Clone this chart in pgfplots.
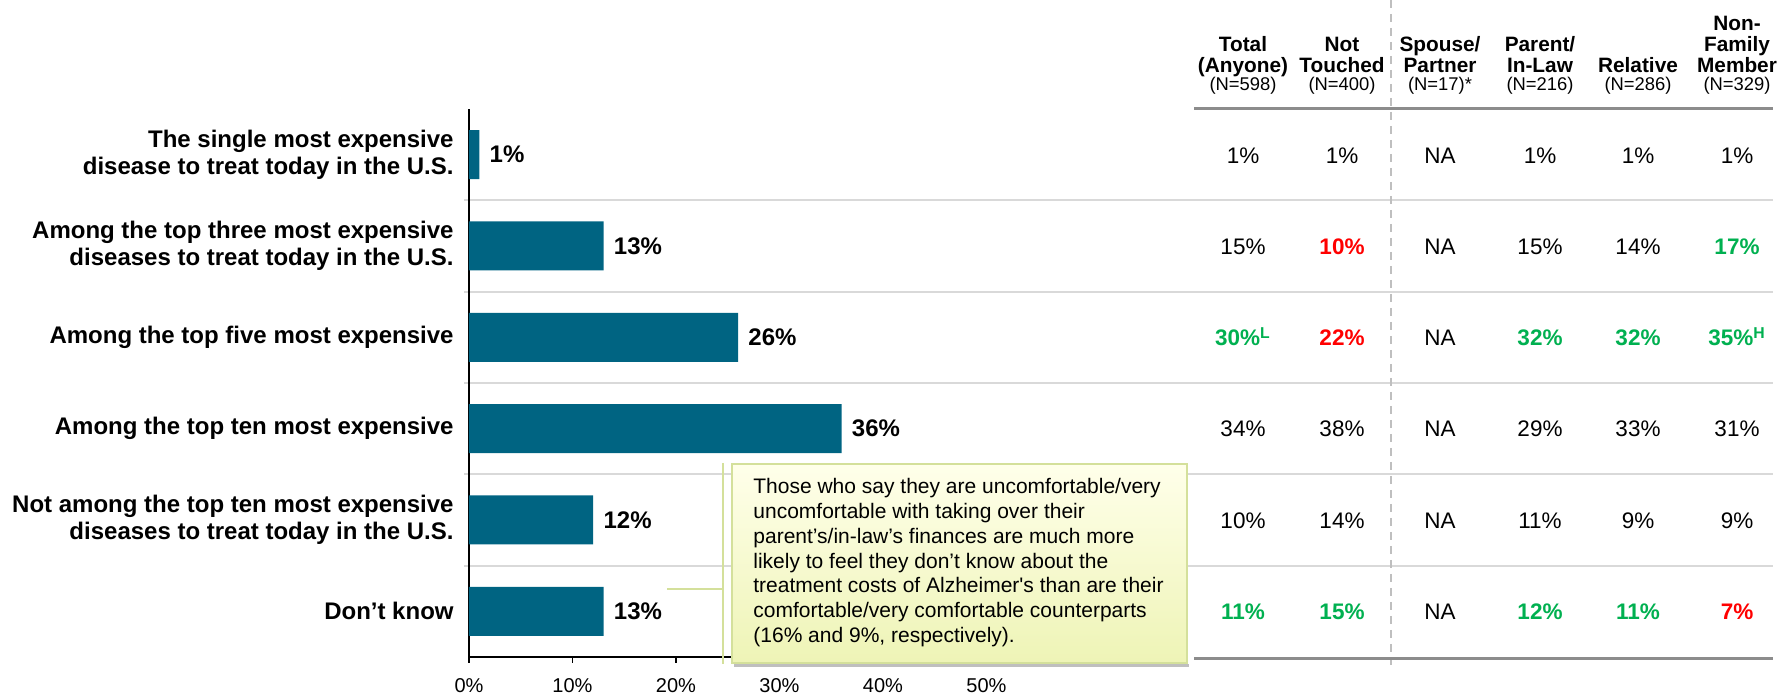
\documentclass[border=0pt]{standalone}
\usepackage{pgfplots}
\pgfplotsset{compat=1.18}
\usepackage{fontspec}
\setmainfont{Liberation Sans}
\definecolor{barblue}{HTML}{006482}
\definecolor{vgreen}{HTML}{00B050}
\definecolor{vred}{HTML}{FF0000}
\definecolor{sepgray}{HTML}{D9D9D9}
\definecolor{thickgray}{HTML}{8C8C8C}
\definecolor{dashgray}{HTML}{BFBFBF}
\definecolor{callborder}{HTML}{D4E09B}
\definecolor{calltop}{HTML}{FFFFEA}
\definecolor{callbot}{HTML}{EEF4B6}
\newcommand\fcat{\bfseries\fontsize{12pt}{13.3pt}\selectfont}
\newcommand\fval{\fontsize{11.25pt}{13pt}\selectfont}
\newcommand\fvalb{\bfseries\fontsize{11.25pt}{13pt}\selectfont}
\newcommand\fhead{\bfseries\fontsize{10.4pt}{12pt}\selectfont}
\newcommand\fn{\fontsize{9.2pt}{10.5pt}\selectfont}
\newcommand\ftick{\fontsize{10pt}{12pt}\selectfont}
\newcommand\fcall{\fontsize{10.5pt}{12.4pt}\selectfont}
\begin{document}
\begin{tikzpicture}
\begin{scope}[shift={(0pt,349pt)}, x=0.5pt, y=-0.5pt]
\path[use as bounding box] (0,0) rectangle (1790,698);
% row separators
\foreach \yy in {200.3,291.7,383,474.3,565.7} {
  \draw[sepgray, line width=1pt] (464,\yy) -- (1773,\yy);
}
% dashed vertical line
\draw[dashgray, line width=0.75pt, dash pattern=on 4pt off 3pt] (1391,0) -- (1391,665);
% thick table lines
\draw[thickgray, line width=1.5pt] (1194,109) -- (1773,109);
\draw[thickgray, line width=1.5pt] (1194,659) -- (1773,659);
\end{scope}

\begin{axis}[
  at={(234.5pt,20.5pt)}, anchor=south west,
  scale only axis,
  width=284.625pt, height=274pt,
  xmin=0, xmax=55, ymin=-0.5, ymax=5.5,
  xbar, bar width=24.5pt,
  axis x line*=bottom, axis y line*=left,
  axis line style={black, line width=1pt},
  xtick={0,10,20,30,40,50},
  xticklabels={0\%,10\%,20\%,30\%,40\%,50\%},
  xticklabel style={font=\ftick, yshift=-4pt},
  tick align=outside,
  major tick length=3pt,
  x tick style={black, line width=0.6pt},
  y tick style={draw=none},
  ytick={0,1,2,3,4,5},
  yticklabels={
    {Don’t know},
    {Not among the top ten most expensive\\diseases to treat today in the U.S.},
    {Among the top ten most expensive},
    {Among the top five most expensive},
    {Among the top three most expensive\\diseases to treat today in the U.S.},
    {The single most expensive\\disease to treat today in the U.S.}},
  yticklabel style={align=right, font=\fcat, inner xsep=0pt, xshift=-4.5pt},
  nodes near coords={\pgfmathprintnumber[assume math mode=true]{\pgfplotspointmeta}\%},
  point meta=x,
  nodes near coords style={font=\fcat, anchor=west, inner xsep=0pt, xshift=5pt, black},
  clip=false,
]
\addplot[fill=barblue, draw=none] coordinates {(1,5) (13,4) (26,3) (36,2) (12,1) (13,0)};
\end{axis}

\begin{scope}[shift={(0pt,349pt)}, x=0.5pt, y=-0.5pt]
% headers
\node[font=\fhead, anchor=base] at (1737,31) {Non-};
\node[font=\fhead, anchor=base] at (1243,52) {Total};
\node[font=\fhead, anchor=base] at (1342,52) {Not};
\node[font=\fhead, anchor=base] at (1440,52) {Spouse/};
\node[font=\fhead, anchor=base] at (1540,52) {Parent/};
\node[font=\fhead, anchor=base] at (1737,52) {Family};
\node[font=\fhead, anchor=base] at (1243,72.5) {(Anyone)};
\node[font=\fhead, anchor=base] at (1342,72.5) {Touched};
\node[font=\fhead, anchor=base] at (1440,72.5) {Partner};
\node[font=\fhead, anchor=base] at (1540,72.5) {In-Law};
\node[font=\fhead, anchor=base] at (1638,72.5) {Relative};
\node[font=\fhead, anchor=base] at (1737,72.5) {Member};
\node[font=\fn, anchor=base] at (1243,91) {(N=598)};
\node[font=\fn, anchor=base] at (1342,91) {(N=400)};
\node[font=\fn, anchor=base] at (1440,91) {(N=17)*};
\node[font=\fn, anchor=base] at (1540,91) {(N=216)};
\node[font=\fn, anchor=base] at (1638,91) {(N=286)};
\node[font=\fn, anchor=base] at (1737,91) {(N=329)};
% row 1
\node[font=\fval, anchor=base] at (1243,164) {1\%};
\node[font=\fval, anchor=base] at (1342,164) {1\%};
\node[font=\fval, anchor=base] at (1440,164) {NA};
\node[font=\fval, anchor=base] at (1540,164) {1\%};
\node[font=\fval, anchor=base] at (1638,164) {1\%};
\node[font=\fval, anchor=base] at (1737,164) {1\%};
% row 2
\node[font=\fval, anchor=base] at (1243,255) {15\%};
\node[font=\fvalb, text=vred, anchor=base] at (1342,255) {10\%};
\node[font=\fval, anchor=base] at (1440,255) {NA};
\node[font=\fval, anchor=base] at (1540,255) {15\%};
\node[font=\fval, anchor=base] at (1638,255) {14\%};
\node[font=\fvalb, text=vgreen, anchor=base] at (1737,255) {17\%};
% row 3
\node[font=\fvalb, text=vgreen, anchor=base] at (1243,346) {30\%\textsuperscript{L}};
\node[font=\fvalb, text=vred, anchor=base] at (1342,346) {22\%};
\node[font=\fval, anchor=base] at (1440,346) {NA};
\node[font=\fvalb, text=vgreen, anchor=base] at (1540,346) {32\%};
\node[font=\fvalb, text=vgreen, anchor=base] at (1638,346) {32\%};
\node[font=\fvalb, text=vgreen, anchor=base] at (1737,346) {35\%\textsuperscript{H}};
% row 4
\node[font=\fval, anchor=base] at (1243,437) {34\%};
\node[font=\fval, anchor=base] at (1342,437) {38\%};
\node[font=\fval, anchor=base] at (1440,437) {NA};
\node[font=\fval, anchor=base] at (1540,437) {29\%};
\node[font=\fval, anchor=base] at (1638,437) {33\%};
\node[font=\fval, anchor=base] at (1737,437) {31\%};
% row 5
\node[font=\fval, anchor=base] at (1243,529) {10\%};
\node[font=\fval, anchor=base] at (1342,529) {14\%};
\node[font=\fval, anchor=base] at (1440,529) {NA};
\node[font=\fval, anchor=base] at (1540,529) {11\%};
\node[font=\fval, anchor=base] at (1638,529) {9\%};
\node[font=\fval, anchor=base] at (1737,529) {9\%};
% row 6
\node[font=\fvalb, text=vgreen, anchor=base] at (1243,620) {11\%};
\node[font=\fvalb, text=vgreen, anchor=base] at (1342,620) {15\%};
\node[font=\fval, anchor=base] at (1440,620) {NA};
\node[font=\fvalb, text=vgreen, anchor=base] at (1540,620) {12\%};
\node[font=\fvalb, text=vgreen, anchor=base] at (1638,620) {11\%};
\node[font=\fvalb, text=vred, anchor=base] at (1737,620) {7\%};
% callout
\fill[gray!50] (734,664) rectangle (1189,667);
\shade[top color=calltop, bottom color=callbot] (732,464) rectangle (1187,663);
\draw[callborder, line width=1pt] (732,464) rectangle (1187,663);
\draw[callborder, line width=1pt] (723,463) -- (723,664);
\draw[callborder, line width=1pt] (667,589) -- (723,589);
\node[font=\fcall, anchor=base west, inner sep=0pt] at (753,494) {Those who say they are uncomfortable/very};
\node[font=\fcall, anchor=base west, inner sep=0pt] at (753,518.7) {uncomfortable with taking over their};
\node[font=\fcall, anchor=base west, inner sep=0pt] at (753,543.4) {parent’s/in-law’s finances are much more};
\node[font=\fcall, anchor=base west, inner sep=0pt] at (753,568.1) {likely to feel they don’t know about the};
\node[font=\fcall, anchor=base west, inner sep=0pt] at (753,592.8) {treatment costs of Alzheimer\textquotesingle s than are their};
\node[font=\fcall, anchor=base west, inner sep=0pt] at (753,617.5) {comfortable/very comfortable counterparts};
\node[font=\fcall, anchor=base west, inner sep=0pt] at (753,642.2) {(16\% and 9\%, respectively).};
\end{scope}
\end{tikzpicture}
\end{document}
